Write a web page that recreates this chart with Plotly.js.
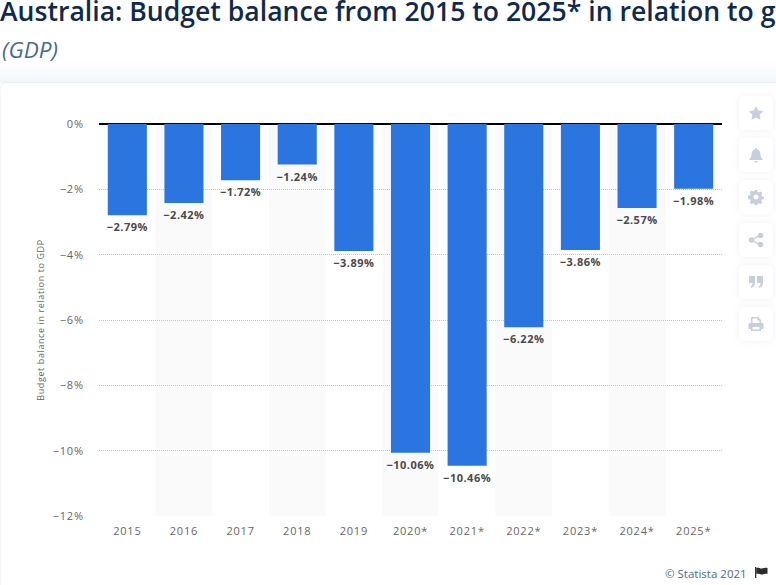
<!DOCTYPE html>
<html>
<head>
<meta charset="utf-8">
<script src="https://cdn.plot.ly/plotly-3.0.1.min.js"></script>
<style>
html, body { margin: 0; padding: 0; width: 776px; height: 585px; overflow: hidden; background: #fff; font-family: "Open Sans", sans-serif; }
#fade { position: absolute; left: 0; top: 60px; width: 776px; height: 23px; background: linear-gradient(#fff, #f5f6fa); }
#card { position: absolute; left: 1px; top: 83px; width: 790px; height: 520px; background: #fff; border-radius: 5px; box-shadow: 0 0 2px rgba(190,195,220,.6); }
#chart { position: absolute; left: 0; top: 0; width: 776px; height: 585px; }
#chart .xtick text, #chart .ytick text { letter-spacing: .8px; }
#chart text.bartext { letter-spacing: .5px; translate: 0 1px; }
#chart text.ytitle { letter-spacing: .6px; }
.side { position: absolute; left: 739px; width: 34px; height: 34px; background: #fff; border-radius: 5px; box-shadow: 0 0 6px rgba(200,205,220,.25); }
.side svg { position: absolute; left: 9px; top: 9px; width: 16px; height: 16px; fill: #c8cedd; }
#flag { position: absolute; left: 755px; top: 567px; width: 13px; height: 11px; }
</style>
</head>
<body>
<div id="fade"></div>
<div id="card"></div>
<div id="chart"></div>
<div class="side" style="top:96px"><svg viewBox="0 0 16 16"><path d="M8 1l2.200 4.600 5 .7-3.600 3.500.9 5L8 12.400l-4.500 2.400.9-5L.8 6.300l5-.7z"/></svg></div>
<div class="side" style="top:138px"><svg viewBox="0 0 16 16"><path d="M8 1c.8 0 1.200.5 1.200 1.200C11.500 3 12.500 4.800 12.500 7.500c0 2.500 1 3.500 2 4.500v1H1.500v-1c1-1 2-2 2-4.500C3.500 4.800 4.500 3 6.800 2.200 6.800 1.500 7.200 1 8 1zM6.300 14h3.400c0 1-.8 1.700-1.700 1.700S6.300 15 6.300 14z"/></svg></div>
<div class="side" style="top:180px"><svg viewBox="0 0 16 16"><path fill-rule="evenodd" d="M6.800 1h2.400l.4 2 1.300.6 1.800-1.100 1.700 1.700-1.100 1.800.6 1.300 2 .4v2.400l-2 .4-.6 1.300 1.100 1.800-1.700 1.700-1.800-1.100-1.300.6-.4 2H6.800l-.4-2-1.300-.6-1.800 1.100-1.700-1.700 1.100-1.800-.6-1.300-2-.4V6.700l2-.4.6-1.300L1.600 3.200l1.700-1.700 1.800 1.100 1.300-.6zM8 5.500a2.500 2.500 0 100 5 2.500 2.500 0 000-5z"/></svg></div>
<div class="side" style="top:223px"><svg viewBox="0 0 16 16"><circle cx="3.500" cy="8" r="2.800"/><circle cx="12.500" cy="3.500" r="2.800"/><circle cx="12.500" cy="12.500" r="2.800"/><path d="M3 7.300l9-4.500.6 1.300-9 4.500zM3.600 7.400l9 4.500-.6 1.300-9-4.500z"/></svg></div>
<div class="side" style="top:265px"><svg viewBox="0 0 16 16"><path d="M1 2h6v6.500C7 11.500 5.500 13.500 3 14l-.6-1.500C3.800 12 4.500 11 4.500 9H1zM9 2h6v6.500c0 3-1.500 5-4 5.500l-.6-1.500c1.400-.5 2.100-1.500 2.100-3.500H9z"/></svg></div>
<div class="side" style="top:307px"><svg viewBox="0 0 16 16"><path fill-rule="evenodd" d="M4 1h6l3 3v3h1.500c.5 0 1 .5 1 1v4c0 .5-.5 1-1 1H13v2H3v-2H1.500c-.5 0-1-.5-1-1V8c0-.5.5-1 1-1H3V2c0-.5.5-1 1-1zM4.500 2.500V7h7V4.500H9.500v-2zM4.500 11v2.500h7V11z"/></svg></div>
<svg id="flag" viewBox="0 0 13 11"><rect x="0" y="0" width="1.300" height="11" fill="#333"/><path d="M1.300 1c2-1 3.500.6 5.500.4 2-.2 3.500-.8 5.700-.4v6c-2-.5-3.500.3-5.700.5-2 .2-3.500-1.100-5.500-.5z" fill="#2b2b2b"/></svg>
<script>
const years = ['2015', '2016', '2017', '2018', '2019', '2020*', '2021*', '2022*', '2023*', '2024*', '2025*'];
const balance = [-2.79, -2.42, -1.72, -1.24, -3.89, -10.06, -10.46, -6.22, -3.86, -2.57, -1.98];
const yTicks = [0, -2, -4, -6, -8, -10, -12];

const FONT = '"Open Sans", sans-serif';
const CLEAR = 'rgba(0,0,0,0)';

// alternating background columns
const bands = [];
years.forEach((y, i) => {
    if (i % 2 === 1) {
        bands.push({
            type: 'rect',
            layer: 'below',
            xref: 'x',
            yref: 'paper',
            x0: i - 0.5,
            x1: i + 0.5,
            y0: 0,
            y1: 1,
            line: { width: 0 },
            fillcolor: '#fafafa',
        });
    }
});

const bars = {
    type: 'bar',
    x: years,
    y: balance,
    marker: { color: '#2a75df', line: { width: 0 } },
    text: balance.map(v => `\u2212${Math.abs(v).toFixed(2)}%`),
    textposition: 'outside',
    constraintext: 'none',
    cliponaxis: false,
    textangle: 0,
    textfont: { family: FONT, size: 11, color: '#4a4a4a', weight: 700 },
    hoverinfo: 'none',
};

const layout = {
    width: 776,
    height: 585,
    showlegend: false,
    paper_bgcolor: CLEAR,
    plot_bgcolor: CLEAR,
    margin: { l: 99, r: 54, t: 124, b: 69, pad: 0 },
    bargap: 0.31,
    title: {
        text: 'Australia: Budget balance from 2015 to 2025* in relation to gross domestic product',
        x: 0,
        xref: 'paper',
        xanchor: 'left',
        y: 1,
        yref: 'container',
        yanchor: 'top',
        pad: { l: -99, t: 2 },
        font: { family: FONT, size: 26.600, color: '#0f2a4d', weight: 600 },
    },
    xaxis: {
        type: 'category',
        categoryorder: 'array',
        categoryarray: years,
        range: [-0.5, years.length - 0.5],
        showgrid: false,
        zeroline: false,
        showline: false,
        ticks: 'outside',
        ticklen: 5,
        tickcolor: CLEAR,
        tickfont: { family: FONT, size: 11, color: '#666666' },
    },
    yaxis: {
        range: [-12, 0],
        tickvals: yTicks,
        ticktext: yTicks.map(v => (v === 0 ? '0%' : `\u2212${Math.abs(v)}%`)),
        showgrid: true,
        gridcolor: '#c4c4c4',
        griddash: '1px,1px',
        gridwidth: 1,
        zeroline: true,
        zerolinecolor: '#000000',
        zerolinewidth: 1.500,
        showline: false,
        ticks: 'outside',
        ticklen: 12,
        tickcolor: CLEAR,
        tickfont: { family: FONT, size: 11, color: '#666666' },
        title: {
            text: 'Budget balance in relation to GDP',
            standoff: 9,
            font: { family: FONT, size: 9, color: '#666666' },
        },
    },
    shapes: bands,
    annotations: [
        {
            text: '<i>(GDP)</i>',
            xref: 'paper',
            yref: 'paper',
            x: -99.500 / 623,
            y: 1 + 75 / 392,
            xanchor: 'left',
            yanchor: 'middle',
            showarrow: false,
            font: { family: FONT, size: 22.500, color: '#4a6a90' },
        },
        {
            text: '© Statista 2021',
            xref: 'paper',
            yref: 'paper',
            x: 1 + 27 / 623,
            y: -57 / 392,
            xanchor: 'right',
            yanchor: 'middle',
            showarrow: false,
            font: { family: FONT, size: 11.500, color: '#4a6a90' },
        },
    ],
};

try {
    Plotly.newPlot('chart', [bars], layout, { displayModeBar: false, staticPlot: true });
} catch (e) {
    console.log(e);
}
</script>
</body>
</html>
